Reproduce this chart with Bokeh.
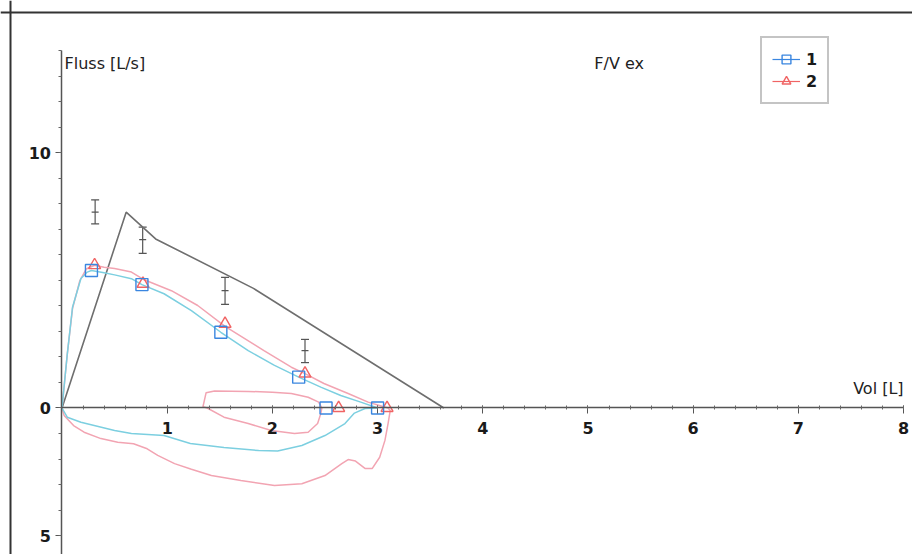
import numpy as np
from bokeh.plotting import figure
from bokeh.models import (Range1d, LinearAxis, FixedTicker, Whisker, TeeHead,
                          ColumnDataSource, Legend, LegendItem, Label, Span)
from bokeh.embed import file_html
from bokeh.resources import INLINE

# ---------------- data ----------------
# predicted (reference) flow-volume outline
pred_x = [0.0, 0.61, 0.89, 1.82, 3.63]
pred_y = [0.0, 7.68, 6.63, 4.69, 0.0]

# predicted ranges (error bars)
eb_x = [0.315, 0.767, 1.55, 2.31]
eb_low = [7.22, 6.06, 4.06, 1.78]
eb_high = [8.16, 7.09, 5.12, 2.69]
eb_mid = [7.68, 6.6, 4.6, 2.25]

# trial 1 (blue) expiratory curve
exp1_x = [0.0, 0.05, 0.1, 0.18, 0.24, 0.28, 0.4, 0.5, 0.66, 0.76, 0.97, 1.23,
          1.51, 1.77, 2.02, 2.25, 2.46, 2.65, 2.84, 3.0]
exp1_y = [0.0, 2.1, 3.95, 5.08, 5.33, 5.39, 5.3, 5.22, 5.07, 4.84, 4.48, 3.82,
          2.97, 2.25, 1.67, 1.21, 0.82, 0.49, 0.23, 0.0]
# trial 1 inspiratory curve
insp1_x = [3.0, 2.88, 2.78, 2.69, 2.5, 2.28, 2.05, 1.87, 1.54, 1.22, 0.97,
           0.66, 0.5, 0.18, 0.05, 0.0]
insp1_y = [0.0, -0.02, -0.2, -0.61, -1.08, -1.47, -1.69, -1.67, -1.55, -1.39,
           -1.08, -1.0, -0.88, -0.56, -0.36, 0.0]

# trial 2 (red) expiratory curve
exp2_x = [0.0, 0.05, 0.1, 0.17, 0.23, 0.31, 0.4, 0.5, 0.66, 0.77, 1.04, 1.29,
          1.55, 1.92, 2.18, 2.31, 2.49, 2.72, 2.91, 3.1]
exp2_y = [0.0, 2.1, 3.9, 5.0, 5.45, 5.6, 5.52, 5.47, 5.33, 5.05, 4.6, 4.02,
          3.2, 2.25, 1.6, 1.35, 0.96, 0.57, 0.23, 0.0]
# trial 2 inspiratory curve
insp2_x = [3.1, 3.12, 3.1, 3.07, 3.02, 2.95, 2.88, 2.79, 2.72, 2.66, 2.5,
           2.28, 2.02, 1.7, 1.42, 1.23, 1.07, 0.91, 0.81, 0.68, 0.53, 0.37,
           0.21, 0.11, 0.02, 0.0]
insp2_y = [0.0, -0.1, -0.6, -1.27, -1.93, -2.37, -2.37, -2.08, -2.02, -2.18,
           -2.65, -2.97, -3.04, -2.84, -2.65, -2.4, -2.18, -1.86, -1.6, -1.4,
           -1.34, -1.2, -0.95, -0.69, -0.29, 0.0]
# trial 2 partial loop
loop2_x = [1.38, 1.34, 1.37, 1.45, 1.77, 2.0, 2.18, 2.34, 2.44, 2.47, 2.46,
           2.43, 2.34, 2.21, 1.99, 1.77, 1.54, 1.38]
loop2_y = [0.0, 0.05, 0.6, 0.67, 0.65, 0.62, 0.57, 0.42, 0.23, 0.0, -0.22,
           -0.61, -0.95, -1.0, -0.88, -0.61, -0.36, 0.0]

# measured points
m1_x = [0.28, 0.76, 1.51, 2.25, 2.51, 3.0]
m1_y = [5.39, 4.84, 2.97, 1.21, 0.0, 0.0]
m2_x = [0.31, 0.77, 1.55, 2.31, 2.63, 3.09]
m2_y = [5.6, 4.87, 3.3, 1.35, 0.0, 0.0]

x_ticks = [1, 2, 3, 4, 5, 6, 7, 8]
y_ticks = [-5, 0, 10]
y_tick_labels = {-5: "5", 0: "0", 10: "10"}
series_labels = ["1", "2"]

# ---------------- styling ----------------
BLUE = "#3a86e0"
CYAN = "#7ccfe0"
RED = "#f06464"
PINK = "#f2a4b2"
GRAY = "#6e6e6e"
FONT = "DejaVu Sans"

p = figure(width=912, height=554, output_backend="svg", toolbar_location=None,
           x_axis_type=None, y_axis_type=None,
           x_range=Range1d(-0.5846, 8.085), y_range=Range1d(-5.745, 15.98),
           min_border_left=0, min_border_right=0, min_border_top=0,
           min_border_bottom=0)
p.outline_line_color = None
p.background_fill_color = "white"

# frame border (left and top; the rest lies outside the page)
p.add_layout(Span(location=-0.4895, dimension="height", line_color="#333333",
                  line_width=2))
p.add_layout(Span(location=15.51, dimension="width", line_color="#333333",
                  line_width=2))

# axes through the origin
xaxis = LinearAxis(fixed_location=0, bounds=(0, 8),
                   ticker=FixedTicker(ticks=x_ticks,
                                      minor_ticks=list(np.round(np.arange(0, 8.01, 0.2), 2))))
xaxis.axis_line_color = "#555555"
xaxis.axis_line_width = 1.5
xaxis.major_tick_line_color = "#555555"
xaxis.minor_tick_line_color = "#666666"
xaxis.major_tick_in = 2
xaxis.major_tick_out = 6
xaxis.minor_tick_in = 2
xaxis.minor_tick_out = 2
xaxis.major_label_standoff = 8
xaxis.major_label_text_font = FONT
xaxis.major_label_text_font_size = "16px"
xaxis.major_label_text_font_style = "bold"
xaxis.major_label_text_color = "#1a1a1a"
p.add_layout(xaxis, "below")

yaxis = LinearAxis(fixed_location=0, bounds=(-10, 14),
                   ticker=FixedTicker(ticks=y_ticks, minor_ticks=list(range(-10, 15))),
                   major_label_overrides=y_tick_labels)
yaxis.axis_line_color = "#555555"
yaxis.axis_line_width = 1.5
yaxis.major_tick_line_color = "#555555"
yaxis.minor_tick_line_color = "#666666"
yaxis.major_tick_in = 0
yaxis.major_tick_out = 6
yaxis.minor_tick_in = 0
yaxis.minor_tick_out = 3
yaxis.major_label_standoff = 5
yaxis.major_label_text_font = FONT
yaxis.major_label_text_font_size = "16px"
yaxis.major_label_text_font_style = "bold"
yaxis.major_label_text_color = "#1a1a1a"
p.add_layout(yaxis, "left")

# predicted outline and ranges
p.line(pred_x, pred_y, line_color=GRAY, line_width=1.6)
eb_src = ColumnDataSource(dict(x=eb_x, lo=eb_low, hi=eb_high, mid=eb_mid))
p.add_layout(Whisker(base="x", lower="lo", upper="hi", source=eb_src,
                     line_color="#555555", line_width=1.2,
                     lower_head=TeeHead(size=8, line_color="#555555", line_width=1.2),
                     upper_head=TeeHead(size=8, line_color="#555555", line_width=1.2)))
p.scatter("x", "mid", source=eb_src, marker="dash", size=7, line_color="#555555",
          line_width=1.2)

# curves
p.line(insp2_x, insp2_y, line_color=PINK, line_width=1.5)
p.line(loop2_x, loop2_y, line_color=PINK, line_width=1.5)
p.line(exp2_x, exp2_y, line_color=PINK, line_width=1.5)
p.line(insp1_x, insp1_y, line_color=CYAN, line_width=1.5)
p.line(exp1_x, exp1_y, line_color=CYAN, line_width=1.5)

# markers
r2 = p.scatter(m2_x, m2_y, marker="triangle", size=12, fill_alpha=0,
               line_color=RED, line_width=1.4)
r1 = p.scatter(m1_x, m1_y, marker="square", size=12, fill_alpha=0,
               line_color=BLUE, line_width=1.4)

# legend proxies (line colour of each series in the legend)
l1 = p.line(x=[np.nan], y=[np.nan], line_color=BLUE, line_width=1.2)
l2 = p.line(x=[np.nan], y=[np.nan], line_color=RED, line_width=1.2)

legend = Legend(items=[LegendItem(label=series_labels[0], renderers=[l1, r1]),
                       LegendItem(label=series_labels[1], renderers=[l2, r2])],
                location=(760, 450), orientation="vertical",
                padding=10, spacing=0, margin=0,
                glyph_width=28, glyph_height=22, label_height=22,
                label_standoff=6, label_width=8,
                label_text_font=FONT, label_text_font_size="16px",
                label_text_font_style="bold",
                label_text_color="#1a1a1a",
                border_line_color="#8a8a8a", border_line_width=2,
                background_fill_color="white", background_fill_alpha=1)
p.add_layout(legend)

# axis titles and chart title
p.add_layout(Label(x=0.024, y=13.5, text="Fluss [L/s]", text_font=FONT,
                   text_font_size="16px", text_color="#222222",
                   text_baseline="middle", text_align="left"))
p.add_layout(Label(x=5.06, y=13.5, text="F/V ex", text_font=FONT,
                   text_font_size="16px", text_color="#222222",
                   text_baseline="middle", text_align="left"))
p.add_layout(Label(x=8.0, y=0.76, text="Vol [L]", text_font=FONT,
                   text_font_size="16px", text_color="#222222",
                   text_baseline="middle", text_align="right"))

open("out.html", "w").write(file_html(p, INLINE))
